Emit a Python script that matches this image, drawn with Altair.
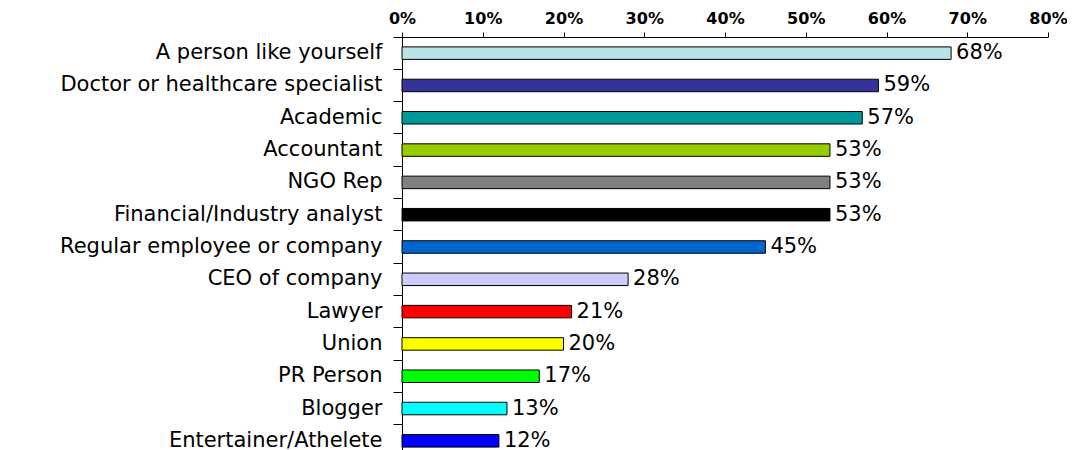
import altair as alt
import pandas as pd

categories = [
    "A person like yourself",
    "Doctor or healthcare specialist",
    "Academic",
    "Accountant",
    "NGO Rep",
    "Financial/Industry analyst",
    "Regular employee or company",
    "CEO of company",
    "Lawyer",
    "Union",
    "PR Person",
    "Blogger",
    "Entertainer/Athelete",
]
values = [68, 59, 57, 53, 53, 53, 45, 28, 21, 20, 17, 13, 12]
colors = [
    "#B8E2E4", "#333399", "#009999", "#99CC00", "#808080", "#000000",
    "#0066CC", "#CCCCFF", "#FF0000", "#FFFF00", "#00FF00", "#00FFFF", "#0000FF",
]
x_ticks = [0, 10, 20, 30, 40, 50, 60, 70, 80]

df = pd.DataFrame({
    "category": categories,
    "value": values,
    "label": [f"{v}%" for v in values],
})

y_enc = alt.Y(
    "category:N",
    sort=categories,
    scale=alt.Scale(paddingInner=0, paddingOuter=0),
    axis=alt.Axis(
        title=None, bandPosition=0, tickSize=9, labelFontSize=21,
        labelFont="DejaVu Sans", labelColor="black", labelPadding=11,
        domainColor="black", tickColor="black", grid=False, labelLimit=400,
    ),
)
x_enc = alt.X(
    "value:Q",
    scale=alt.Scale(domain=[0, 80]),
    axis=alt.Axis(
        orient="top", values=x_ticks, labelExpr="datum.value + '%'",
        tickSize=5, labelFontWeight="bold", labelFontSize=16,
        labelFont="DejaVu Sans", labelColor="black", grid=False,
        title=None, labelPadding=6, domainColor="black", tickColor="black",
        labelFlush=False, labelOverlap=False,
    ),
)

bars = alt.Chart(df).mark_bar(size=12.5, stroke="black", strokeWidth=1).encode(
    x=x_enc,
    y=y_enc,
    color=alt.Color("category:N", scale=alt.Scale(domain=categories, range=colors), legend=None),
)

text = alt.Chart(df).mark_text(
    align="left", dx=5, baseline="middle", fontSize=21, font="DejaVu Sans", color="black"
).encode(
    x=alt.X("value:Q"),
    y=alt.Y("category:N", sort=categories),
    text="label:N",
)

chart = (bars + text).properties(
    width=646,
    height=420,
    autosize=alt.AutoSizeParams(type="none"),
    padding={"left": 394, "top": 29, "right": 19, "bottom": 0},
    background="white",
).configure_view(stroke=None)

chart.save("out.html", embed_options={"renderer": "svg", "actions": False})
